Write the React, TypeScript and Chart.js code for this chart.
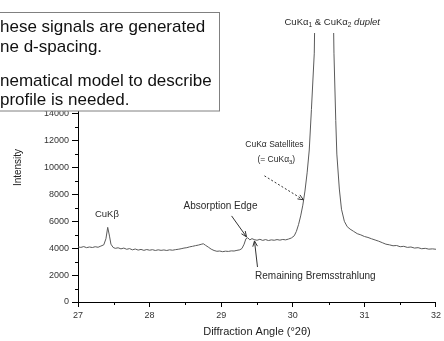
import React, { useEffect, useRef } from "react";
import { Chart, registerables } from "chart.js";
Chart.register(...registerables);

// ---- data ----
const angles = [
  27.0, 27.04, 27.08, 27.12, 27.16, 27.2, 27.24, 27.28, 27.32, 27.36, 27.39, 27.415, 27.44, 27.46, 27.49,
  27.52, 27.56, 27.6, 27.64, 27.68, 27.72, 27.76, 27.8, 27.84, 27.88, 27.92, 27.96, 28.0, 28.04, 28.08,
  28.12, 28.16, 28.2, 28.24, 28.28, 28.32, 28.36, 28.4, 28.44, 28.48, 28.52, 28.56, 28.6, 28.64, 28.68,
  28.72, 28.75, 28.78, 28.82, 28.86, 28.9, 28.94, 28.98, 29.02, 29.06, 29.1, 29.14, 29.18, 29.22, 29.26,
  29.29, 29.32, 29.345, 29.37, 29.4, 29.43, 29.46, 29.5, 29.54, 29.58, 29.62, 29.66, 29.7, 29.74, 29.78,
  29.82, 29.86, 29.9, 29.94, 29.98, 30.02, 30.05, 30.08, 30.11, 30.14, 30.17, 30.2, 30.23, 30.26, 30.3,
  30.36, 30.44, 30.52, 30.575, 30.6, 30.615, 30.65, 30.68, 30.72, 30.76, 30.8, 30.85, 30.9, 30.95, 31.0,
  31.05, 31.1, 31.15, 31.2, 31.25, 31.3, 31.35, 31.4, 31.45, 31.5, 31.55, 31.6, 31.65, 31.7, 31.75,
  31.8, 31.85, 31.9, 31.95, 32.0,
];
const intensities = [
  4100, 4060, 4120, 4040, 4090, 4050, 4110, 4070, 4160, 4250, 4700, 5550, 4900, 4300, 4060,
  3990, 4030, 3950, 4010, 3920, 3970, 3880, 3940, 3860, 3910, 3840, 3900, 3850, 3890, 3830,
  3880, 3840, 3870, 3830, 3880, 3850, 3890, 3920, 3960, 4010, 4040, 4100, 4140, 4190, 4230,
  4290, 4330, 4220, 4080, 3930, 3830, 3770, 3790, 3740, 3780, 3760, 3800, 3790, 3840, 3880,
  3980, 4300, 4700, 4780, 4620, 4710, 4640, 4590, 4660, 4580, 4640, 4570, 4620, 4590, 4640,
  4600, 4650, 4620, 4680, 4760, 4920, 5250, 5750, 6400, 7200, 8250, 9600, 11300, 14300, 18500,
  40000, 52000, 38000, 18500, 13500, 11000, 8400, 6900, 6000, 5600, 5420, 5250, 5080, 4990, 4870,
  4800, 4700, 4610, 4520, 4410, 4300, 4250, 4180, 4200, 4110, 4140, 4060, 4090, 4010, 4040,
  3960, 3990, 3930, 3950, 3920,
];
const xTickValues = [27, 28, 29, 30, 31, 32];
const xMinorTicks = [27.5, 28.5, 29.5, 30.5, 31.5];
const yMinorTicks = [1000, 3000, 5000, 7000, 9000, 11000, 13000, 15000, 17000, 19000];
const xTitle = "Diffraction Angle (°2θ)";
const yTitle = "Intensity";
const boxLines = ["hese signals are generated", "ne d-spacing.", "nematical model to describe", "profile is needed."];

const FONT = '"Liberation Sans", Arial, Helvetica, sans-serif';

type Seg = { t: string; sub?: boolean; italic?: boolean };

function drawRich(ctx: CanvasRenderingContext2D, segs: Seg[], cx: number, cy: number, size: number, color: string) {
  const fontFor = (s: Seg) => `${s.italic ? "italic " : ""}${s.sub ? size * 0.7 : size}px ${FONT}`;
  let w = 0;
  for (const s of segs) {
    ctx.font = fontFor(s);
    w += ctx.measureText(s.t).width;
  }
  let x = cx - w / 2;
  ctx.textAlign = "left";
  ctx.textBaseline = "middle";
  ctx.fillStyle = color;
  for (const s of segs) {
    ctx.font = fontFor(s);
    ctx.fillText(s.t, x, cy + (s.sub ? size * 0.3 : 0));
    x += ctx.measureText(s.t).width;
  }
}

function arrow(ctx: CanvasRenderingContext2D, x1: number, y1: number, x2: number, y2: number, dashed: boolean) {
  ctx.save();
  ctx.strokeStyle = "#333";
  ctx.lineWidth = 1;
  if (dashed) ctx.setLineDash([2, 2]);
  ctx.beginPath();
  ctx.moveTo(x1, y1);
  ctx.lineTo(x2, y2);
  ctx.stroke();
  ctx.setLineDash([]);
  const a = Math.atan2(y2 - y1, x2 - x1);
  const L = 6;
  const s = 0.4;
  ctx.beginPath();
  ctx.moveTo(x2 - L * Math.cos(a - s), y2 - L * Math.sin(a - s));
  ctx.lineTo(x2, y2);
  ctx.lineTo(x2 - L * Math.cos(a + s), y2 - L * Math.sin(a + s));
  ctx.stroke();
  ctx.restore();
}

const annotPlugin = {
  id: "annotations",
  afterDraw(chart: any) {
    const { ctx, chartArea } = chart;
    const xs = chart.scales.x;
    const ys = chart.scales.y;
    const X = (v: number) => xs.getPixelForValue(v);
    const Y = (v: number) => ys.getPixelForValue(v);
    ctx.save();
    // minor ticks
    ctx.strokeStyle = "#000";
    ctx.lineWidth = 1;
    ctx.beginPath();
    for (const v of yMinorTicks) {
      const py = Math.round(Y(v)) + 0.5;
      ctx.moveTo(chartArea.left - 3, py);
      ctx.lineTo(chartArea.left, py);
    }
    for (const v of xMinorTicks) {
      const px = Math.round(X(v)) + 0.5;
      ctx.moveTo(px, chartArea.bottom);
      ctx.lineTo(px, chartArea.bottom + 3);
    }
    ctx.stroke();

    const col = "#2a2a2a";
    drawRich(ctx, [{ t: "CuKβ" }], X(27.404), Y(6550), 9.5, col);
    drawRich(ctx, [{ t: "Absorption Edge" }], X(28.99), Y(7150), 10, col);
    arrow(ctx, X(29.145), Y(6400), X(29.354), Y(4840), false);
    drawRich(ctx, [{ t: "Remaining Bremsstrahlung" }], X(30.315), Y(1940), 10, col);
    arrow(ctx, X(29.507), Y(2600), X(29.465), Y(4540), false);
    drawRich(ctx, [{ t: "CuKα Satellites" }], X(29.744), Y(11690), 8.5, col);
    drawRich(ctx, [{ t: "(= CuKα" }, { t: "3", sub: true }, { t: ")" }], X(29.77), Y(10570), 8.5, col);
    arrow(ctx, X(29.604), Y(9380), X(30.148), Y(7600), true);
    drawRich(
      ctx,
      [{ t: "CuKα" }, { t: "1", sub: true }, { t: " & CuKα" }, { t: "2", sub: true }, { t: " duplet", italic: true }],
      X(30.551),
      Y(20770),
      9.5,
      col
    );

    // slide text box overlay
    ctx.fillStyle = "#fff";
    ctx.fillRect(-2, 12, 222, 99);
    ctx.strokeStyle = "#808080";
    ctx.lineWidth = 1;
    ctx.strokeRect(-2, 12.5, 221.5, 98.5);
    ctx.fillStyle = "#111";
    ctx.font = `17px ${FONT}`;
    ctx.textAlign = "left";
    ctx.textBaseline = "middle";
    const lineY = [27, 47, 81, 100];
    boxLines.forEach((t, i) => ctx.fillText(t, 0, lineY[i]));
    ctx.restore();
  },
};

export default function App() {
  const ref = useRef<HTMLCanvasElement>(null);
  useEffect(() => {
    const points = angles.map((a, i) => ({ x: a, y: intensities[i] }));
    const chart = new Chart(ref.current as HTMLCanvasElement, {
      type: "line",
      data: {
        datasets: [
          {
            data: points,
            borderColor: "#5a5a5a",
            borderWidth: 1,
            pointRadius: 0,
            tension: 0,
            fill: false,
          },
        ],
      },
      options: {
        animation: false,
        responsive: false,
        devicePixelRatio: 1,
        layout: { padding: { left: 0, right: 7, top: 33, bottom: 0 } },
        plugins: { legend: { display: false }, tooltip: { enabled: false } },
        scales: {
          x: {
            type: "linear",
            min: 27,
            max: 32,
            afterBuildTicks: (s: any) => {
              s.ticks = xTickValues.map((v) => ({ value: v }));
            },
            afterFit: (s: any) => {
              s.height = 39;
            },
            ticks: { font: { family: FONT, size: 9 }, color: "#333", padding: 3, maxRotation: 0, callback: (v: any) => String(v) },
            grid: { display: true, drawOnChartArea: false, drawTicks: true, tickLength: 5, color: "#000" },
            border: { display: true, color: "#000", width: 1 },
            title: { display: true, text: xTitle, font: { family: FONT, size: 11 }, color: "#222", padding: { top: 0, bottom: 2 } },
          },
          y: {
            type: "linear",
            min: 0,
            max: 20000,
            ticks: { stepSize: 2000, font: { family: FONT, size: 9 }, color: "#333", padding: 3, callback: (v: any) => String(v) },
            afterFit: (s: any) => {
              s.width = 78;
            },
            grid: { display: true, drawOnChartArea: false, drawTicks: true, tickLength: 6, color: "#000" },
            border: { display: true, color: "#000", width: 1 },
            title: { display: true, text: yTitle, font: { family: FONT, size: 10 }, color: "#222", padding: { top: 12, bottom: 0 } },
          },
        },
      },
      plugins: [annotPlugin],
    } as any);
    return () => chart.destroy();
  }, []);
  return (
    <div style={{ position: "absolute", left: 0, top: 0, width: 444, height: 341, background: "#fff" }}>
      <canvas ref={ref} width={444} height={341} style={{ display: "block", width: 444, height: 341 }} />
    </div>
  );
}
